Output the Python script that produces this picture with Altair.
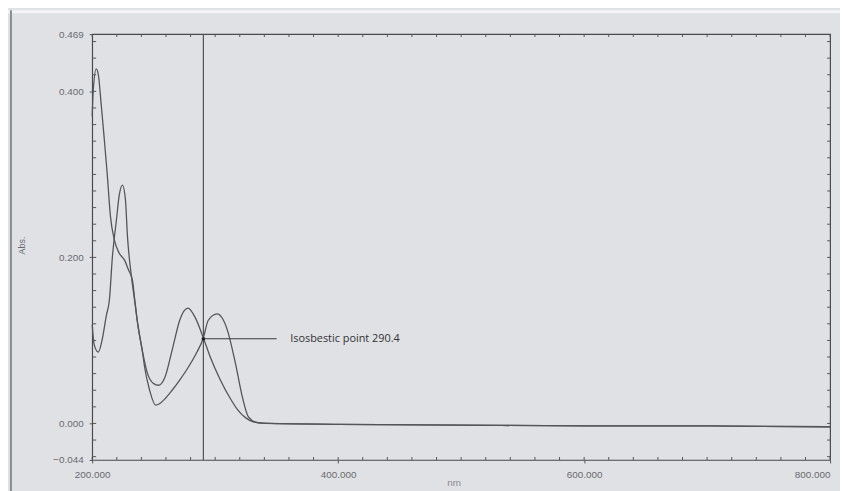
import altair as alt
import pandas as pd

# Curve A (tall peak near 203 nm)
wl_a = [200, 200.8, 203.3, 205, 207.4, 209.8, 212.3, 214.8, 218, 222, 226.2, 229.5, 232.8,
        234.4, 237, 241, 242.6, 246.7, 251.6, 255, 260, 265, 271, 277, 285.2, 290.4, 294.3,
        301.6, 305.7, 309.8, 316.4, 322.1, 327, 334.4, 345, 400, 500, 600, 700, 800]
abs_a = [0.37, 0.40, 0.427, 0.42, 0.383, 0.343, 0.299, 0.25, 0.221, 0.205, 0.197, 0.185, 0.172,
         0.152, 0.12, 0.085, 0.068, 0.04, 0.022, 0.024, 0.031, 0.04, 0.052, 0.065, 0.086, 0.103, 0.124,
         0.132, 0.127, 0.113, 0.073, 0.032, 0.008, 0.001, 0.0, -0.001, -0.002, -0.003, -0.003, -0.004]

# Curve B (peak near 224 nm and 278 nm)
wl_b = [200, 201.6, 205, 208, 211.5, 214, 216.4, 219.7, 222, 224.6, 227, 228.7, 232, 234.4,
        237, 241, 245, 250, 254, 259, 265.6, 271.3, 277.9, 283.6, 290.4, 296, 304, 312.3,
        318, 324.6, 331, 341, 400, 500, 600, 700, 800]
abs_b = [0.119, 0.095, 0.086, 0.10, 0.13, 0.149, 0.20, 0.245, 0.275, 0.287, 0.27, 0.225, 0.176, 0.149,
         0.12, 0.086, 0.06, 0.048, 0.046, 0.055, 0.092, 0.125, 0.139, 0.128, 0.103, 0.08, 0.053, 0.03,
         0.017, 0.007, 0.002, 0.0, -0.001, -0.002, -0.003, -0.003, -0.004]

x_labels = [200, 400, 600, 800]
y_labels = [-0.044, 0.0, 0.2, 0.4, 0.469]
x_minor = list(range(200, 801, 20))
y_minor = [round(-0.04 + 0.02 * i, 2) for i in range(26)]
iso_wl = 290.4
iso_abs = 0.102
note_text = "Isosbestic point 290.4"

W, H = 745, 430
LINE = "#555558"

xs = alt.Scale(domain=[200, 800], nice=False, zero=False)
ys = alt.Scale(domain=[-0.044, 0.469], nice=False, zero=False)

df = pd.concat([
    pd.DataFrame({"wl": wl_a, "abs": abs_a, "s": "A"}),
    pd.DataFrame({"wl": wl_b, "abs": abs_b, "s": "B"}),
])

curves = alt.Chart(df).mark_line(color=LINE, strokeWidth=1.3, interpolate="monotone").encode(
    x=alt.X("wl:Q", scale=xs, axis=alt.Axis(
        values=x_labels, format=".3f", grid=False, ticks=True, tickSize=3, tickColor=LINE,
        domain=False, labelFlush=False,
        labelAlign={"condition": {"test": "datum.value >= 800", "value": "right"}, "value": "center"},
        labelFont="Liberation Sans", labelFontSize=10,
        labelColor="#6a6a6e", labelPadding=7, title="nm", titleFont="Liberation Sans",
        titleFontSize=10, titleFontWeight="normal", titleColor="#8a8a8e", titleX=365,
        titleY=28, titleBaseline="bottom")),
    y=alt.Y("abs:Q", scale=ys, axis=alt.Axis(
        values=y_labels, format=".3f", grid=False, ticks=True, tickSize=3, tickColor=LINE,
        domain=False, labelFlush=False, labelFont="Liberation Sans", labelFontSize=10,
        labelColor="#6a6a6e", labelPadding=6, title="Abs.", titleFont="Liberation Sans",
        titleFontSize=9, titleFontWeight="normal", titleColor="#6a6a6e", titleX=-71,
        titleY=213, titleAngle=-90, titleAlign="center", titleBaseline="middle")),
    detail="s:N",
)

xt = pd.DataFrame({"v": x_minor})
yt = pd.DataFrame({"v": y_minor})

bottom_ticks = alt.Chart(xt).mark_rule(color=LINE, strokeWidth=1).encode(
    x=alt.X("v:Q", scale=xs), y=alt.value(H), y2=alt.value(H - 3))
top_ticks = alt.Chart(xt).mark_rule(color=LINE, strokeWidth=1).encode(
    x=alt.X("v:Q", scale=xs), y=alt.value(0), y2=alt.value(3))
left_ticks = alt.Chart(yt).mark_rule(color=LINE, strokeWidth=1).encode(
    y=alt.Y("v:Q", scale=ys), x=alt.value(0), x2=alt.value(4))
right_ticks = alt.Chart(yt).mark_rule(color=LINE, strokeWidth=1).encode(
    y=alt.Y("v:Q", scale=ys), x=alt.value(W), x2=alt.value(W - 3))

iso = pd.DataFrame({"wl": [iso_wl], "abs": [iso_abs], "end": [350.0], "tx": [361.0], "t": [note_text]})
vline = alt.Chart(iso).mark_rule(color="#505054", strokeWidth=1.2).encode(
    x=alt.X("wl:Q", scale=xs), y=alt.value(0), y2=alt.value(H))
hline = alt.Chart(iso).mark_rule(color="#3a3a3c", strokeWidth=1.2).encode(
    x=alt.X("wl:Q", scale=xs), x2="end:Q", y=alt.Y("abs:Q", scale=ys))
dot = alt.Chart(iso).mark_point(filled=True, color="#222", size=14, opacity=1).encode(
    x=alt.X("wl:Q", scale=xs), y=alt.Y("abs:Q", scale=ys))
note = alt.Chart(iso).mark_text(align="left", baseline="middle", font="Open Sans",
                                fontSize=11, color="#333333").encode(
    x=alt.X("tx:Q", scale=xs), y=alt.Y("abs:Q", scale=ys), text="t:N")

frame_line = alt.Chart(iso).mark_rule(color="#8c8c90", strokeWidth=2).encode(
    x=alt.value(-82), y=alt.value(-24), y2=alt.value(H + 40))
top_band = alt.Chart(iso).mark_rect(color="#f4f4f4").encode(
    x=alt.value(-85), x2=alt.value(W + 10), y=alt.value(-24), y2=alt.value(-21))

chart = alt.layer(
    top_band, frame_line, bottom_ticks, top_ticks, left_ticks, right_ticks,
    vline, curves, hline, dot, note
).properties(
    width=W, height=H,
    background="#dfe1e5",
    autosize=alt.AutoSizeParams(type="none"),
    padding={"left": 85, "top": 24, "right": 10, "bottom": 29},
).configure_view(stroke="#4a4a4e", strokeWidth=1.2)

chart.save("out.html", embed_options={"renderer": "svg", "actions": False})
